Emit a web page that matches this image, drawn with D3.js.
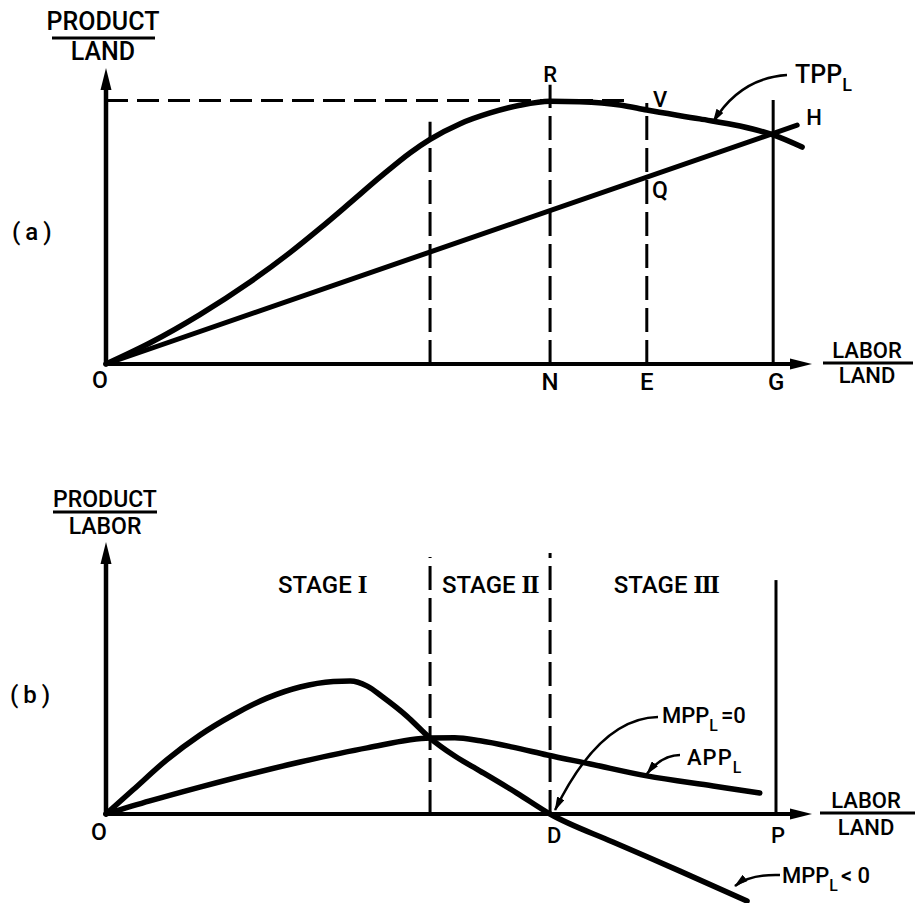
<!DOCTYPE html>
<html>
<head>
<meta charset="utf-8">
<script src="https://cdn.jsdelivr.net/npm/d3@7"></script>
<style>
  html, body { margin: 0; background: #ffffff; }
  svg { display: block; }
  text { font-family: Roboto, "Liberation Sans", sans-serif; font-weight: 500; fill: #000; }
</style>
</head>
<body>
<svg id="chart" width="917" height="903"></svg>
<script>
// ---- panel (a): product per unit of land ----
const tppData = [[0,0],[0.62,0.71],[1.33,1.67],[2.04,2.77],[2.61,3.77],[3.03,4.58],[3.46,5.45],
  [3.88,6.31],[4.31,7.14],[4.59,7.59],[5.01,8.11],[5.44,8.48],[5.86,8.74],[6.29,8.88],[6.71,8.86],
  [7.28,8.75],[7.66,8.58],[8.41,8.28],[8.98,8.04],[9.45,7.74],[9.86,7.33]];
const rayData = [[0,0],[9.79,8.07]];
const tppMax = 8.9;
const tppMaxDashEnd = 7.39;
const topGuideX   = [4.59, 6.29, 7.66, 9.45];
const topGuideTop = [8.18, 9.43, 8.82, 8.92];
const topGuideDashed = [true, true, true, false];
const topTickLabels = ["", "N", "E", "G"];

// ---- panel (b): product per unit of labor ----
const mppData = [[0,0],[0.38,0.88],[0.86,1.99],[1.33,2.9],[1.8,3.64],[2.28,4.26],[2.75,4.67],
  [3.22,4.87],[3.46,4.89],[3.7,4.7],[3.92,4.3],[4.26,3.6],[4.59,2.79],[4.94,2.13],[5.3,1.58],
  [5.82,0.77],[6.29,0],[7.18,-1.03],[8.13,-2.1],[9.08,-3.2]];
const appData = [[0,0],[0.62,0.48],[1.33,0.99],[2.75,1.91],[3.7,2.43],[4.59,2.79],[4.94,2.8],
  [5.3,2.69],[5.76,2.46],[6.25,2.17],[6.86,1.84],[7.66,1.4],[8.6,1.03],[9.26,0.77]];
const stageBounds = [4.59, 6.29];
const stageBoundTop = [9.45, 9.6];
const stageWords = ["STAGE", "STAGE", "STAGE"];
const stageNumerals = ["I", "II", "III"];
const pX = 9.49, pTop = 8.6;

const svg = d3.select("#chart");

const x  = d3.scaleLinear().domain([0, 10]).range([106, 812]);
const yA = d3.scaleLinear().domain([0, 10]).range([364, 68]);
const yB = d3.scaleLinear().domain([0, 10]).range([814, 542]);

const defs = svg.append("defs");
defs.append("marker")
  .attr("id", "lead")
  .attr("viewBox", "0 0 14 8")
  .attr("refX", 13).attr("refY", 4)
  .attr("markerWidth", 14).attr("markerHeight", 8)
  .attr("markerUnits", "userSpaceOnUse")
  .attr("orient", "auto")
  .append("path").attr("d", "M0,0 L14,4 L0,8 Z").attr("fill", "#000");

function axes(yScale) {
  const ox = x(0), oy = yScale(0);
  // vertical axis + arrow
  svg.append("line").attr("x1", ox).attr("y1", oy + 2).attr("x2", ox).attr("y2", yScale(10) + 18)
    .attr("stroke", "#000").attr("stroke-width", 4.5);
  svg.append("path")
    .attr("d", `M${ox},${yScale(10)} L${ox - 5.5},${yScale(10) + 22} L${ox + 5.5},${yScale(10) + 22} Z`)
    .attr("fill", "#000");
  // horizontal axis + arrow
  svg.append("line").attr("x1", ox - 2).attr("y1", oy).attr("x2", x(10) - 18).attr("y2", oy)
    .attr("stroke", "#000").attr("stroke-width", 4);
  svg.append("path")
    .attr("d", `M${x(10)},${oy} L${x(10) - 22},${oy - 5.5} L${x(10) - 22},${oy + 5.5} Z`)
    .attr("fill", "#000");
}

function fraction(cx, top, bottom, yTop, yBar, yBottom, x1, x2, size) {
  svg.append("text").attr("x", cx).attr("y", yTop).attr("text-anchor", "middle")
    .attr("font-size", size).text(top);
  svg.append("line").attr("x1", x1).attr("x2", x2).attr("y1", yBar).attr("y2", yBar)
    .attr("stroke", "#000").attr("stroke-width", 3);
  svg.append("text").attr("x", cx).attr("y", yBottom).attr("text-anchor", "middle")
    .attr("font-size", size).text(bottom);
}

function label(tx, ty, s, size, anchor) {
  return svg.append("text").attr("x", tx).attr("y", ty)
    .attr("text-anchor", anchor || "middle").attr("font-size", size).text(s);
}

function subLabel(tx, ty, main, sub, tail, size) {
  const t = svg.append("text").attr("x", tx).attr("y", ty).attr("font-size", size);
  t.append("tspan").text(main);
  t.append("tspan").attr("font-size", size * 0.72).attr("dy", 8).text(sub);
  if (tail) t.append("tspan").attr("dy", -8).attr("dx", 3).text(tail);
  return t;
}

function leader(d) {
  svg.append("path").attr("d", d).attr("fill", "none")
    .attr("stroke", "#000").attr("stroke-width", 2.5)
    .attr("marker-end", "url(#lead)");
}

// ================= panel (a) =================
svg.append("line")
  .attr("x1", x(0)).attr("x2", x(tppMaxDashEnd))
  .attr("y1", yA(tppMax)).attr("y2", yA(tppMax))
  .attr("stroke", "#000").attr("stroke-width", 3).attr("stroke-dasharray", "22,9");

svg.selectAll("line.guideA")
  .data(topGuideX)
  .enter().append("line")
  .attr("class", "guideA")
  .attr("x1", d => x(d)).attr("x2", d => x(d))
  .attr("y1", yA(0)).attr("y2", (d, i) => yA(topGuideTop[i]))
  .attr("stroke", "#000").attr("stroke-width", 3)
  .attr("stroke-dasharray", (d, i) => topGuideDashed[i] ? "24,8" : null);

axes(yA);

const lineA = d3.line().x(d => x(d[0])).y(d => yA(d[1])).curve(d3.curveMonotoneX);
svg.append("path").attr("d", lineA(tppData)).attr("fill", "none")
  .attr("stroke", "#000").attr("stroke-width", 5.5).attr("stroke-linecap", "round");
svg.append("path").attr("d", d3.line().x(d => x(d[0])).y(d => yA(d[1]))(rayData)).attr("fill", "none")
  .attr("stroke", "#000").attr("stroke-width", 5).attr("stroke-linecap", "round");

fraction(103, "PRODUCT", "LAND", 30, 38, 60, 52, 155, 25);
fraction(867, "LABOR", "LAND", 358, 363, 383, 823, 913, 22);
label(12, 240, "(a)", 24, "start").attr("letter-spacing", 5);
label(100, 388, "O", 23);
topTickLabels.forEach((s, i) => { if (s) label(x(topGuideX[i]) + (i === 3 ? 3 : 0), 390, s, 24); });
label(x(6.29), 82, "R", 22);
label(660, 107, "V", 22);
label(660, 198, "Q", 23);
label(814, 125, "H", 22);
subLabel(795, 83, "TPP", "L", null, 25);
leader(`M787,75 Q740,78 ${x(8.6)},${yA(8.21) + 1}`);

// ================= panel (b) =================
svg.selectAll("line.stage")
  .data(stageBounds)
  .enter().append("line")
  .attr("class", "stage")
  .attr("x1", d => x(d)).attr("x2", d => x(d))
  .attr("y1", yB(0)).attr("y2", (d, i) => yB(stageBoundTop[i]))
  .attr("stroke", "#000").attr("stroke-width", 3).attr("stroke-dasharray", "24,8");
svg.append("line")
  .attr("x1", x(pX)).attr("x2", x(pX)).attr("y1", yB(0)).attr("y2", yB(pTop))
  .attr("stroke", "#000").attr("stroke-width", 3);

axes(yB);

const lineB = d3.line().x(d => x(d[0])).y(d => yB(d[1])).curve(d3.curveMonotoneX);
svg.append("path").attr("d", lineB(mppData)).attr("fill", "none")
  .attr("stroke", "#000").attr("stroke-width", 5.5).attr("stroke-linecap", "round");
svg.append("path").attr("d", lineB(appData)).attr("fill", "none")
  .attr("stroke", "#000").attr("stroke-width", 5.5).attr("stroke-linecap", "round");

const stageCenters = [322, 490, 666];
stageWords.forEach((w, i) => {
  const t = label(stageCenters[i], 593, "", 24);
  t.append("tspan").text(w + " ");
  t.append("tspan").attr("font-family", "Liberation Serif").attr("font-weight", "bold")
    .attr("font-size", 25).attr("letter-spacing", -1.5).text(stageNumerals[i]);
});

fraction(105, "PRODUCT", "LABOR", 507, 512, 534, 53, 157, 23);
fraction(866, "LABOR", "LAND", 808, 813, 835, 820, 915, 22);
label(10, 703, "(b)", 24, "start").attr("letter-spacing", 5);
label(99, 840, "O", 23);
label(x(6.29) + 4, 843, "D", 22);
label(x(pX) + 2, 843, "P", 22);

subLabel(662, 723, "MPP", "L", "=0", 22);
subLabel(687, 765, "APP", "L", null, 22).attr("letter-spacing", 1);
subLabel(782, 883, "MPP", "L", "< 0", 22);

leader(`M658,717 Q600,718 ${x(6.29) + 5},${yB(0) - 4}`);
leader(`M680,755 Q662,755 ${x(7.66)},${yB(1.4) - 2}`);
leader(`M780,875 Q750,874 735,886`);
</script>
</body>
</html>
